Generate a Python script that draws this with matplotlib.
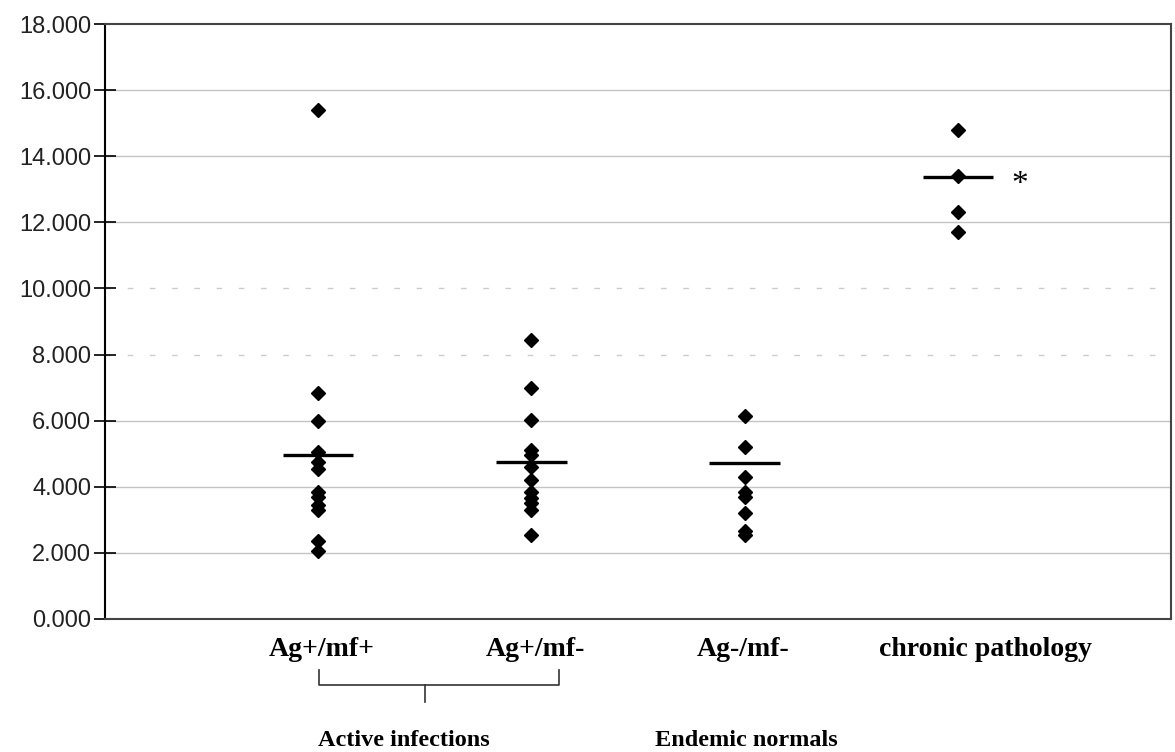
import numpy as np
import matplotlib.pyplot as plt
import matplotlib.transforms as mtransforms
from matplotlib.ticker import FuncFormatter

# values
groups = ['Ag+/mf+', 'Ag+/mf-', 'Ag-/mf-', 'chronic pathology']
ag_pos_mf_pos = [15400, 6850, 6000, 5050, 4750, 4550, 3850, 3700, 3450, 3300, 2350, 2050]
ag_pos_mf_neg = [8450, 7000, 6020, 5100, 4950, 4600, 4200, 3850, 3650, 3500, 3300, 2550]
ag_neg_mf_neg = [6150, 5200, 4300, 3850, 3700, 3200, 2650, 2550]
chronic = [14800, 13400, 12300, 11700]
group_means = [4950, 4750, 4720, 13380]
y_ticks = [0, 2000, 4000, 6000, 8000, 10000, 12000, 14000, 16000, 18000]

series = [ag_pos_mf_pos, ag_pos_mf_neg, ag_neg_mf_neg, chronic]

fig = plt.figure(figsize=(11.75, 7.52), dpi=100)
ax = fig.add_axes([0.0894, 0.1769, 0.9072, 0.7911])

# grid lines (scanned, some are faint/broken)
for v in y_ticks[1:-1]:
    if v in (8000, 10000):
        ax.axhline(v, color='#cccccc', lw=1.0, ls=(0, (4, 12)), zorder=0)
    else:
        ax.axhline(v, color='#c4c4c4', lw=1.0, zorder=0)

for i, vals in enumerate(series):
    xpos = np.full(len(vals), i + 1)
    ax.plot(xpos, vals, ls='none', marker='D', ms=6.8, color='black', zorder=3)
    ax.hlines(group_means[i], i + 1 - 0.165, i + 1 + 0.165, color='black', lw=2.4, zorder=2)

ax.text(4.29, 13150, '*', fontsize=24, family='Liberation Serif', ha='center', va='center')

ax.set_xlim(0, 5)
ax.set_ylim(0, 18000)
ax.set_yticks(y_ticks)
ax.yaxis.set_major_formatter(FuncFormatter(lambda v, p: f'{v / 1000:.3f}'))
ax.tick_params(axis='y', direction='inout', length=16, width=1.2, pad=2,
               labelsize=17, labelcolor='#222222')
for lab in ax.get_yticklabels():
    lab.set_family('Liberation Sans')

ax.set_xticks([])

ax.spines['left'].set_color('black')
ax.spines['left'].set_linewidth(1.5)
for s in ['top', 'right', 'bottom']:
    ax.spines[s].set_color('#444444')
    ax.spines[s].set_linewidth(1.5)

trans = mtransforms.blended_transform_factory(ax.transData, ax.transAxes)

# category labels (the last one sits a bit right of its column)
label_x = [1.015, 2.02, 2.995, 4.13]
for x, g in zip(label_x, groups):
    ax.text(x, -0.052, g, transform=trans, ha='center', va='center',
            family='Liberation Serif', fontweight='bold', fontsize=20)

# bracket for active infections
ax.plot([1.005, 1.005, 2.13, 2.13], [-0.086, -0.111, -0.111, -0.086],
        color='#333333', lw=1.2, transform=trans, clip_on=False)
ax.plot([1.50, 1.50], [-0.111, -0.14], color='#333333', lw=1.2,
        transform=trans, clip_on=False)

ax.text(1.40, -0.205, 'Active infections', transform=trans, ha='center', va='center',
        family='Liberation Serif', fontweight='bold', fontsize=17.5)
ax.text(3.01, -0.205, 'Endemic normals', transform=trans, ha='center', va='center',
        family='Liberation Serif', fontweight='bold', fontsize=17.5)

fig.savefig('out.png', dpi=100)
